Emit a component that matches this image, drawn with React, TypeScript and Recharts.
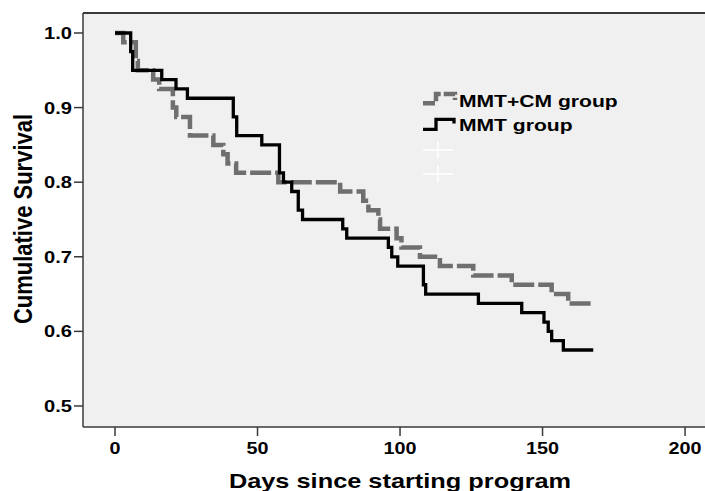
import React from 'react';
import { LineChart, Line, XAxis, YAxis, CartesianGrid, ReferenceLine, Legend } from 'recharts';

// MMT group (black solid)
const mmtDays = [0, 5.5, 6.2, 16.4, 21.4, 25.4, 41.5, 42.7, 51.5, 57.7, 59.1, 62.0, 64.3, 65.8, 79.9, 81.3, 95.9, 97.1, 99.2, 108.2, 109.0, 127.5, 142.7, 150.5, 152.0, 153.2, 157.3, 167.8];
const mmtSurvival = [1.0, 0.975, 0.95, 0.9375, 0.925, 0.9125, 0.8875, 0.8625, 0.85, 0.8125, 0.8, 0.7875, 0.7625, 0.75, 0.7375, 0.725, 0.7125, 0.7, 0.6875, 0.6625, 0.65, 0.6375, 0.625, 0.6125, 0.6, 0.5875, 0.575, 0.575];

// MMT+CM group (gray dashed)
const mmtCmDays = [0, 2.9, 7.3, 8.0, 13.4, 15.5, 20.3, 21.5, 26.3, 34.5, 38.0, 39.5, 42.5, 57.3, 79.0, 87.1, 88.9, 92.4, 93.0, 98.8, 100.5, 107.0, 114.0, 125.7, 139.2, 153.2, 159.0, 167.8];
const mmtCmSurvival = [1.0, 0.9875, 0.9625, 0.95, 0.9375, 0.925, 0.9, 0.8875, 0.8625, 0.85, 0.8375, 0.825, 0.8125, 0.8, 0.7875, 0.775, 0.7625, 0.75, 0.7375, 0.725, 0.7125, 0.7, 0.6875, 0.675, 0.6625, 0.65, 0.6375, 0.6375];

const xTicks = [0, 50, 100, 150, 200];
const yTicks = [0.5, 0.6, 0.7, 0.8, 0.9, 1.0];
const legendLabels = ['MMT+CM group', 'MMT group'];
const xTitle = 'Days since starting program';
const yTitle = 'Cumulative Survival';

const mmtData = mmtDays.map((t, i) => ({ t, s: mmtSurvival[i] }));
const mmtCmData = mmtCmDays.map((t, i) => ({ t, s: mmtCmSurvival[i] }));

const X_DOMAIN: [number, number] = [-11.23, 207];
const Y_DOMAIN: [number, number] = [0.4718, 1.0268];

const FONT = 'Liberation Sans, Arial, Helvetica, sans-serif';
const FRAME = '#3a3a3a';
const GRAY = '#6f6f6f';

const XTick = (props: any) => {
  const { x, y, payload } = props;
  return (
    <g transform={`translate(${x},${y})`}>
      <text x={0} y={0} dy={16} textAnchor="middle" transform="scale(1.2,1)"
        style={{ fontFamily: FONT, fontWeight: 700, fontSize: 16.5, fill: '#000' }}>
        {payload.value}
      </text>
    </g>
  );
};

const YTick = (props: any) => {
  const { x, y, payload } = props;
  return (
    <g transform={`translate(${x},${y})`}>
      <text x={0} y={0} dy={6} textAnchor="end" transform="scale(1.22,1)"
        style={{ fontFamily: FONT, fontWeight: 700, fontSize: 16.5, fill: '#000' }}>
        {Number(payload.value).toFixed(1)}
      </text>
    </g>
  );
};

const XTitle = (props: any) => {
  const vb = props.viewBox || { x: 83, y: 427, width: 622, height: 64 };
  const cx = vb.x + vb.width / 2 + 6;
  const by = vb.y + 61;
  return (
    <g transform={`translate(${cx},${by})`}>
      <text x={0} y={0} textAnchor="middle" transform="scale(1.3,1)"
        style={{ fontFamily: FONT, fontWeight: 700, fontSize: 19.5, fill: '#000' }}>
        {xTitle}
      </text>
    </g>
  );
};

const YTitle = (props: any) => {
  const vb = props.viewBox || { x: 0, y: 13, width: 83, height: 414 };
  const cy = vb.y + vb.height / 2 - 1;
  return (
    <g transform={`translate(31.5,${cy}) rotate(-90)`}>
      <text x={0} y={0} textAnchor="middle" transform="scale(1,1.15)"
        style={{ fontFamily: FONT, fontWeight: 700, fontSize: 22, fill: '#000' }}>
        {yTitle}
      </text>
    </g>
  );
};

const LegendContent = () => {
  const textStyle: React.CSSProperties = {
    position: 'absolute', left: 39, top: 0, lineHeight: '24px', fontSize: 17,
    fontFamily: FONT, fontWeight: 700, color: '#000', whiteSpace: 'nowrap',
    transform: 'scaleX(1.24)', transformOrigin: 'left center',
  };
  return (
    <div style={{ position: 'relative', width: 220, height: 96 }}>
      <div style={{ position: 'absolute', left: 0, top: 0, width: 220, height: 24 }}>
        <svg width={38} height={24} style={{ position: 'absolute', left: 0, top: 0 }}>
          <path d="M3,13.3 H16 V4 H35 V10" fill="none" stroke={GRAY} strokeWidth={4.5} strokeDasharray="12 3" />
        </svg>
        <span style={textStyle}>{legendLabels[0]}</span>
      </div>
      <div style={{ position: 'absolute', left: 0, top: 24, width: 220, height: 24 }}>
        <svg width={38} height={24} style={{ position: 'absolute', left: 0, top: 0 }}>
          <path d="M3,15.3 H16 V5.3 H34 V9.5" fill="none" stroke="#000" strokeWidth={3.3} />
        </svg>
        <span style={textStyle}>{legendLabels[1]}</span>
      </div>
      {[2, 3].map((r) => (
        <div key={r} style={{ position: 'absolute', left: 0, top: 24 * r, width: 40, height: 24 }}>
          <svg width={38} height={24} style={{ position: 'absolute', left: 0, top: 0 }}>
            <path d="M3,12 H33 M18,3.5 V20.5" fill="none" stroke="#ffffff" strokeWidth={1.5} />
          </svg>
        </div>
      ))}
    </div>
  );
};

export default function App() {
  return (
    <div style={{ position: 'absolute', left: 0, top: 0, width: 705, height: 491, background: '#fff' }}>
      <LineChart width={705} height={491} margin={{ top: 13, right: 0, bottom: 0, left: 0 }}>
        <CartesianGrid fill="#f0f0f0" stroke="none" horizontal={false} vertical={false} />
        <XAxis
          type="number"
          dataKey="t"
          domain={X_DOMAIN}
          ticks={xTicks}
          interval={0}
          allowDataOverflow
          height={64}
          tickSize={9}
          axisLine={{ stroke: FRAME, strokeWidth: 1.5 }}
          tickLine={{ stroke: FRAME, strokeWidth: 1.5 }}
          tick={<XTick />}
          label={(p: any) => <XTitle {...p} />}
        />
        <YAxis
          type="number"
          dataKey="s"
          domain={Y_DOMAIN}
          ticks={yTicks}
          interval={0}
          allowDataOverflow
          width={83}
          tickSize={9}
          axisLine={{ stroke: FRAME, strokeWidth: 1.5 }}
          tickLine={{ stroke: FRAME, strokeWidth: 1.5 }}
          tick={<YTick />}
          label={(p: any) => <YTitle {...p} />}
        />
        <ReferenceLine y={Y_DOMAIN[1]} stroke={FRAME} strokeWidth={2} />
        <Line
          data={mmtCmData}
          dataKey="s"
          name={legendLabels[0]}
          type="stepAfter"
          stroke={GRAY}
          strokeWidth={4.5}
          strokeDasharray="21 4"
          dot={false}
          activeDot={false}
          isAnimationActive={false}
        />
        <Line
          data={mmtData}
          dataKey="s"
          name={legendLabels[1]}
          type="stepAfter"
          stroke="#000"
          strokeWidth={3.3}
          dot={false}
          activeDot={false}
          isAnimationActive={false}
        />
        <Legend
          layout="vertical"
          align="center"
          verticalAlign="middle"
          content={<LegendContent />}
          wrapperStyle={{ left: 420, top: 90, width: 220, height: 96 }}
        />
      </LineChart>
    </div>
  );
}
